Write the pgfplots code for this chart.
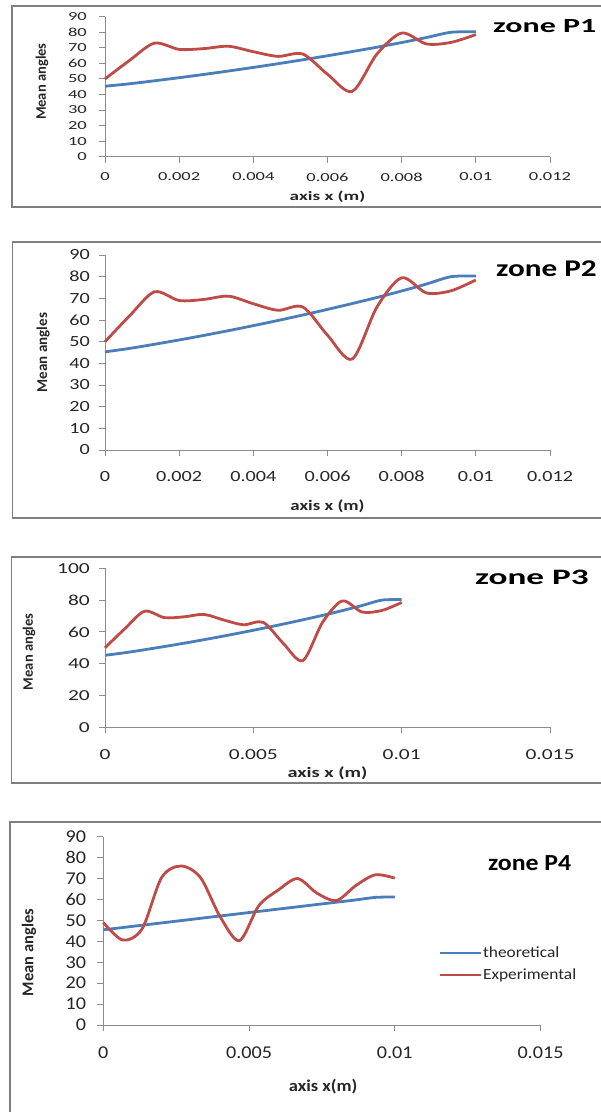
\documentclass[border=0pt]{standalone}
\usepackage{fontspec}
\setmainfont{Carlito}
\newfontfamily\fA[FakeStretch=1.5]{Carlito}
\newfontfamily\fB[FakeStretch=1.3]{Carlito}
\newfontfamily\fC[FakeStretch=1.4]{Carlito}
\newfontfamily\fD[FakeStretch=1.12]{Carlito}
\newfontfamily\fZ[FakeStretch=1.6]{Carlito}
\newfontfamily\fY[FakeStretch=1.3]{Carlito}
\usepackage{pgfplots}
\usepackage{pgfplotstable}
\pgfplotsset{compat=1.18}

\definecolor{theo}{HTML}{4A7EBB}
\definecolor{expe}{HTML}{BE4B48}
\definecolor{axgray}{HTML}{8C8C8C}
\definecolor{framegray}{HTML}{7F7F7F}
\definecolor{txt}{HTML}{262626}

% zones P1-P3 (same measurements)
\pgfplotstableread{
x y
0        45.3
0.000667 46.9
0.001333 48.8
0.002    50.8
0.002667 52.9
0.003333 55.1
0.004    57.4
0.004667 59.8
0.005333 62.3
0.006    64.9
0.006667 67.6
0.007333 70.4
0.008    73.4
0.008667 76.6
0.009333 80.0
0.01     80.3
}\theoA
\pgfplotstableread{
x y
0        50
0.000667 62
0.001333 73
0.002    69
0.002667 69.5
0.003333 71
0.004    67.5
0.004667 64.5
0.005333 66
0.006    53
0.006667 42
0.007333 66
0.008    79.5
0.008667 72.5
0.009333 73.5
0.01     78.5
}\expA
% zone P4
\pgfplotstableread{
x y
0        45.5
0.000667 46.6
0.001333 47.7
0.002    48.8
0.002667 49.9
0.003333 51.0
0.004    52.1
0.004667 53.2
0.005333 54.3
0.006    55.4
0.006667 56.5
0.007333 57.6
0.008    58.7
0.008667 59.8
0.009333 61.0
0.01     61.2
}\theoD
\pgfplotstableread{
x y
0        49
0.000667 40.6
0.001333 46
0.002    70.5
0.002667 76
0.003333 70.5
0.004    52
0.004667 40.3
0.005333 57
0.006    64.5
0.006667 70
0.007333 63
0.008    59.5
0.008667 66.7
0.009333 71.8
0.01     70.2
}\expD

\pgfplotsset{
  excel/.style={
    scale only axis, anchor=south west, clip=false,
    axis x line*=bottom, axis y line*=left,
    axis line style={draw=axgray, line width=0.9pt},
    every tick/.style={draw=axgray, line width=0.9pt},
    major tick length=6pt, tick align=outside,
    scaled x ticks=false, scaled y ticks=false,
    xmin=0, ymin=0,
    ticklabel style={text=txt, inner sep=0pt},
    xticklabel style={anchor=center},
    yticklabel style={anchor=east},
    xlabel style={anchor=center, text=txt},
    ylabel style={anchor=center, text=txt},
  },
  th/.style={draw=theo, line width=2.8pt, smooth, no markers},
  ex/.style={draw=expe, line width=2.8pt, smooth, no markers},
}

\begin{document}
\begin{tikzpicture}
\useasboundingbox (0,0) rectangle (601pt,-1112pt);
\clip (0,0) rectangle (601pt,-1112pt);
\fill[white] (0,0) rectangle (601pt,-1112pt);

% frames
\draw[framegray, line width=1.8pt] (11.7pt,-6pt) rectangle (650pt,-206.7pt);
\draw[framegray, line width=1.8pt] (12.5pt,-241.7pt) rectangle (650pt,-518.3pt);
\draw[framegray, line width=1.8pt] (11.5pt,-557pt) rectangle (650pt,-783.3pt);
\draw[framegray, line width=1.8pt] (10pt,-821.7pt) rectangle (650pt,-1150pt);

% ---------------- zone P1
\begin{axis}[excel,
  at={(105pt,-156.7pt)}, width=445pt, height=140pt,
  xmax=0.012, ymax=90,
  xtick={0,0.002,0.004,0.006,0.008,0.01,0.012},
  xticklabels={0,0.002,0.004,0.006,0.008,0.01,0.012},
  ytick={0,10,20,30,40,50,60,70,80,90},
  yticklabels={0,10,20,30,40,50,60,70,80,90},
  ticklabel style={font=\fA\fontsize{12.3}{14}\selectfont},
  xticklabel style={yshift=-14.3pt},
  yticklabel style={xshift=-12pt},
  xlabel={axis x (m)},
  xlabel style={at={(axis description cs:0.5,-0.288)}, font=\fA\bfseries\fontsize{12.8}{15}\selectfont},
  ylabel={Mean angles},
  ylabel style={at={(axis description cs:-0.1416,0.536)}, font=\bfseries\fontsize{14.5}{17}\selectfont},
]
\addplot[th] table {\theoA};
\addplot[ex] table {\expA};
\end{axis}
\node[anchor=base west, inner sep=0pt, font=\fZ\bfseries\fontsize{20}{24}\selectfont] at (493pt,-32.5pt) {zone P1};

% ---------------- zone P2
\begin{axis}[excel,
  at={(105pt,-450pt)}, width=445pt, height=195pt,
  xmax=0.012, ymax=90,
  xtick={0,0.002,0.004,0.006,0.008,0.01,0.012},
  xticklabels={0,0.002,0.004,0.006,0.008,0.01,0.012},
  ytick={0,10,20,30,40,50,60,70,80,90},
  yticklabels={0,10,20,30,40,50,60,70,80,90},
  ticklabel style={font=\fB\fontsize{15.5}{18}\selectfont},
  xticklabel style={yshift=-20.7pt},
  yticklabel style={xshift=-9pt},
  xlabel={axis x (m)},
  xlabel style={at={(axis description cs:0.5,-0.287)}, font=\fB\bfseries\fontsize{14.5}{17}\selectfont},
  ylabel={Mean angles},
  ylabel style={at={(axis description cs:-0.139,0.5)}, font=\bfseries\fontsize{15}{18}\selectfont},
]
\addplot[th] table {\theoA};
\addplot[ex] table {\expA};
\end{axis}
\node[anchor=base west, inner sep=0pt, font=\fY\bfseries\fontsize{24}{28}\selectfont] at (496pt,-276pt) {zone P2};

% ---------------- zone P3
\begin{axis}[excel,
  at={(105pt,-727.3pt)}, width=445pt, height=159pt,
  xmax=0.015, ymax=100,
  xtick={0,0.005,0.01,0.015},
  xticklabels={0,0.005,0.01,0.015},
  ytick={0,20,40,60,80,100},
  yticklabels={0,20,40,60,80,100},
  ticklabel style={font=\fC\fontsize{15.3}{18}\selectfont},
  xticklabel style={yshift=-21pt},
  yticklabel style={xshift=-9pt},
  xlabel={axis x (m)},
  xlabel style={at={(axis description cs:0.5,-0.286)}, font=\fC\bfseries\fontsize{14.5}{17}\selectfont},
  ylabel={Mean angles},
  ylabel style={at={(axis description cs:-0.171,0.475)}, font=\bfseries\fontsize{14.5}{17}\selectfont},
]
\addplot[th] table {\theoA};
\addplot[ex] table {\expA};
\end{axis}
\node[anchor=base west, inner sep=0pt, font=\fZ\bfseries\fontsize{22}{26}\selectfont] at (475pt,-584pt) {zone P3};

% ---------------- zone P4
\begin{axis}[excel,
  at={(103.3pt,-1025pt)}, width=437.2pt, height=188.3pt,
  xmax=0.015, ymax=90,
  xtick={0,0.005,0.01,0.015},
  xticklabels={0,0.005,0.01,0.015},
  ytick={0,10,20,30,40,50,60,70,80,90},
  yticklabels={0,10,20,30,40,50,60,70,80,90},
  ticklabel style={font=\fD\fontsize{18}{21}\selectfont},
  xticklabel style={yshift=-21.7pt},
  yticklabel style={xshift=-11pt},
  xlabel={axis x(m)},
  xlabel style={at={(axis description cs:0.503,-0.328)}, font=\fD\bfseries\fontsize{16.5}{19}\selectfont},
  ylabel={Mean angles},
  ylabel style={at={(axis description cs:-0.17,0.385)}, font=\bfseries\fontsize{16.5}{19}\selectfont},
  legend style={at={(axis description cs:0.768,0.42)}, anchor=north west,
    draw=none, fill=none, inner sep=0pt, outer sep=0pt,
    font=\fD\fontsize{15.5}{18}\selectfont, text=txt, row sep=8pt,
    nodes={inner sep=1pt}},
  legend cell align=left,
  legend image code/.code={\draw[#1, line width=2pt] (0pt,0pt) -- (41pt,0pt);},
]
\addplot[th] table {\theoD};
\addplot[ex] table {\expD};
\legend{theoretical, Experimental}
\end{axis}
\node[anchor=base west, inner sep=0pt, font=\fD\bfseries\fontsize{23}{27}\selectfont] at (488pt,-870pt) {zone P4};
\end{tikzpicture}
\end{document}
